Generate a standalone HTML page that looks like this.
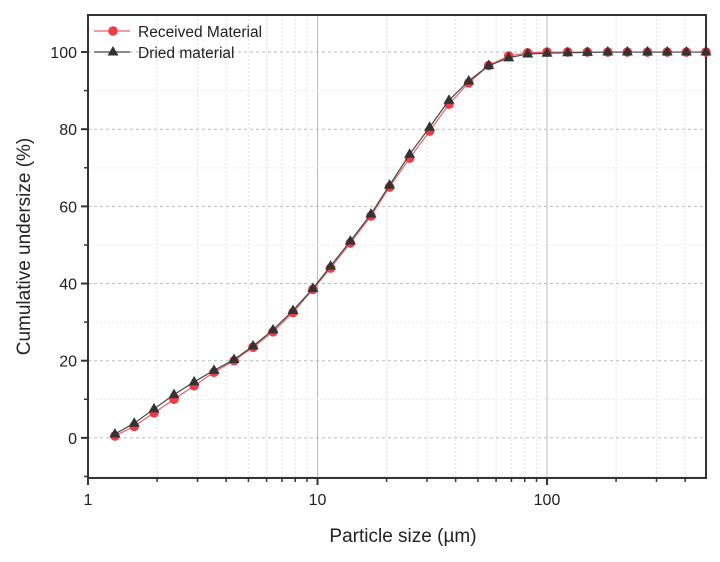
<!DOCTYPE html>
<html><head><meta charset="utf-8"><style>
body{margin:0;background:#fff;width:720px;height:557px;overflow:hidden}
svg{font-family:"Liberation Sans",sans-serif}
</style></head><body>
<svg id="chart" width="720" height="557"></svg>
<script>
const xValues=[1.31,1.59,1.94,2.37,2.90,3.54,4.33,5.24,6.40,7.82,9.55,11.4,13.9,17.1,20.6,25.2,30.8,37.4,45.6,55.7,68.1,82.4,100,123,150,184,224,274,334,405,493];
const receivedValues=[0.5,3,6.5,10,13.5,17,20,23.5,27.5,32.5,38.5,44,50.5,57.5,65,72.5,79.5,86.5,92,96.5,99,99.8,100,100,100,100,100,100,100,100,100];
const driedValues=[1,3.8,7.5,11.2,14.5,17.5,20.3,23.8,28,33,38.7,44.5,51,58,65.5,73.5,80.5,87.5,92.5,96.5,98.5,99.5,99.7,99.8,99.9,100,100,100,100,100,100];
const yTicks=[0,20,40,60,80,100];
const xTicks=[1,10,100];

const L=88,R=706,T=15,B=478;
const xMin=1,xMax=493,yMin=-10.4,yMax=109.6;
const sx=v=>L+(Math.log10(v)-Math.log10(xMin))/(Math.log10(xMax)-Math.log10(xMin))*(R-L);
const sy=v=>B-(v-yMin)/(yMax-yMin)*(B-T);
const svg=document.getElementById('chart');
const NS='http://www.w3.org/2000/svg';
function mk(tag,attrs,parent){const e=document.createElementNS(NS,tag);for(const k in attrs)e.setAttribute(k,attrs[k]);(parent||svg).appendChild(e);return e;}

// grid
const grid=mk('g',{});


for(let d=1;d<=100;d*=10){for(let m=1;m<10;m++){const v=d*m;if(v<=xMin||v>=xMax)continue;const x=sx(v);
 if(m===1){mk('line',{x1:x,x2:x,y1:T,y2:B,stroke:'#bbb','stroke-width':1},grid);}
 else mk('line',{x1:x,x2:x,y1:T,y2:B,stroke:'#e4e4e4','stroke-width':1,'stroke-dasharray':'2,2'},grid);}}
[-10,10,30,50,70,90].forEach(v=>{if(v<=yMin)return;mk('line',{x1:L,x2:R,y1:sy(v),y2:sy(v),stroke:'#ececec','stroke-dasharray':'2,2'},grid);});
yTicks.forEach(v=>mk('line',{x1:L,x2:R,y1:sy(v),y2:sy(v),stroke:'#bbb','stroke-dasharray':'3,3'},grid));

// frame
const frame=mk('rect',{x:L,y:T,width:R-L,height:B-T,fill:'none',stroke:'#333','stroke-width':2});



// y axis ticks
const yAxis=mk('g',{});


yTicks.forEach(v=>{const y=sy(v);mk('line',{x1:L-7,x2:L,y1:y,y2:y,stroke:'#333','stroke-width':2},yAxis);
 const t=mk('text',{x:L-11,y:y+6,'text-anchor':'end','font-size':16,fill:'#222'},yAxis);t.textContent=v;
 
 });
[-10,10,30,50,70,90].forEach(v=>{if(v<=yMin)return;mk('line',{x1:L-4,x2:L,y1:sy(v),y2:sy(v),stroke:'#333','stroke-width':1.5},yAxis);});
const yt=mk('text',{x:30,y:(T+B)/2,'text-anchor':'middle','font-size':19,fill:'#222',transform:`rotate(-90 30 ${(T+B)/2})`});
yt.textContent='Cumulative undersize (%)';



// x axis
const xAxis=mk('g',{});


for(let d=1;d<=100;d*=10){for(let m=1;m<10;m++){const v=d*m;if(v<xMin||v>xMax)continue;const x=sx(v);
 mk('line',{x1:x,x2:x,y1:B,y2:B+(m===1?7:4),stroke:'#333','stroke-width':m===1?2:1.5},xAxis);}}
xTicks.forEach(v=>{const t=mk('text',{x:sx(v),y:B+27,'text-anchor':'middle','font-size':16,fill:'#222'},xAxis);t.textContent=v;
 
 });
const xt=mk('text',{x:(L+R)/2+6,y:542,'text-anchor':'middle','font-size':19,fill:'#222'});
xt.textContent='Particle size (µm)';



// series
function series(vals,color,marker,name){
 const g=mk('g',{});
 
 
 mk('polyline',{points:xValues.map((x,i)=>sx(x)+','+sy(vals[i])).join(' '),fill:'none',stroke:color,'stroke-width':1.2},g);
 xValues.forEach((x,i)=>{const cx=sx(x),cy=sy(vals[i]);let p;
  if(marker==='circle')p=mk('circle',{cx:cx,cy:cy,r:4.8,fill:'#ef3b45'},g);
  else p=mk('polygon',{points:`${cx},${cy-6} ${cx-5.5},${cy+3.5} ${cx+5.5},${cy+3.5}`,fill:'#333'},g);
  
  });
}
series(receivedValues,'#e8646b','circle','received-material-series');
series(driedValues,'#444','tri','dried-material-series');

// legend
const lg=mk('g',{});


mk('line',{x1:94,x2:130,y1:31,y2:31,stroke:'#e8646b','stroke-width':1.2},lg);
mk('circle',{cx:113,cy:31,r:4.8,fill:'#ef3b45'},lg);
const l1=mk('text',{x:138,y:37,'font-size':15.5,fill:'#222'},lg);l1.textContent='Received Material';


mk('line',{x1:94,x2:130,y1:52,y2:52,stroke:'#444','stroke-width':1.2},lg);
mk('polygon',{points:'113,46 107.5,55.5 118.5,55.5',fill:'#333'},lg);
const l2=mk('text',{x:138,y:58,'font-size':15.5,fill:'#222'},lg);l2.textContent='Dried material';


</script>
</body></html>
